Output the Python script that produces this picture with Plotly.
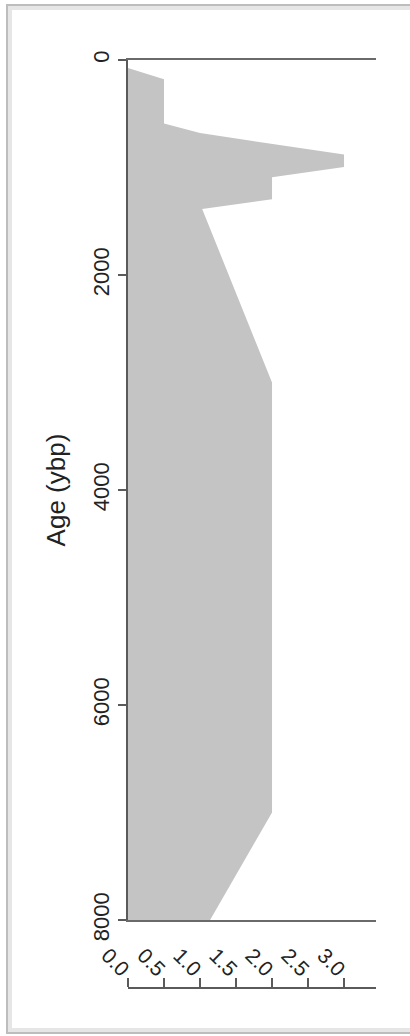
import plotly.graph_objects as go

# Data
ages = [75, 180, 590, 680, 880, 995, 1090, 1295, 1386, 3000, 7000, 8000]
values = [0.0, 0.5, 0.5, 1.0, 3.0, 3.0, 2.0, 2.0, 1.03, 2.0, 2.0, 1.14]
y_ticks = [0, 2000, 4000, 6000, 8000]
x_ticks = [0.0, 0.5, 1.0, 1.5, 2.0, 2.5, 3.0]
x_tick_labels = ["0.0", "0.5", "1.0", "1.5", "2.0", "2.5", "3.0"]

W, H = 410, 1036
px_l, px_r = 128, 376
py_top, py_bot = 60, 920
py_axis = 988
py_labels = 985
x_max = 3.444

fig = go.Figure()
fig.add_trace(go.Scatter(
    x=values, y=ages, mode="lines", fill="tozerox",
    fillcolor="#c4c4c4", line=dict(width=0, color="#c4c4c4"),
    hoverinfo="skip", showlegend=False, xaxis="x", yaxis="y",
))
# invisible traces so the lower free x axes are drawn
for ax in ("x2", "x3"):
    fig.add_trace(go.Scatter(
        x=values, y=ages, mode="lines", line=dict(width=0),
        opacity=0, hoverinfo="skip", showlegend=False, xaxis=ax, yaxis="y",
    ))

font_family = "Liberation Sans, Arial, sans-serif"
axis_col = "#5a5a5a"

common_x = dict(domain=[px_l / W, px_r / W], range=[0, x_max],
                showgrid=False, zeroline=False, automargin=False)

fig.update_layout(
    width=W, height=H,
    margin=dict(l=0, r=0, t=0, b=0, autoexpand=False),
    paper_bgcolor="white", plot_bgcolor="white",
    font=dict(family=font_family, color="#222"),
    xaxis=dict(
        **common_x, showticklabels=False, ticks="",
        showline=True, mirror=True, linecolor="#6a6a6a", linewidth=1.5,
        anchor="y",
    ),
    # lower axis: line and upward ticks
    xaxis2=dict(
        **common_x,
        overlaying="x", anchor="free", position=1 - py_axis / H, side="top",
        tickmode="array", tickvals=x_ticks, showticklabels=False,
        ticks="outside", ticklen=9, tickwidth=1.5, tickcolor=axis_col,
        showline=True, linecolor=axis_col, linewidth=1.5,
    ),
    # lower axis: rotated labels above the line
    xaxis3=dict(
        **common_x,
        overlaying="x", anchor="free", position=1 - py_labels / H, side="top",
        tickmode="array", tickvals=x_ticks, ticktext=x_tick_labels,
        ticks="", tickangle=45, showline=False,
        tickfont=dict(size=21, color="#222"),
    ),
    yaxis=dict(
        domain=[1 - py_bot / H, 1 - py_top / H], range=[8000, 0],
        showgrid=False, zeroline=False,
        tickmode="array", tickvals=y_ticks,
        ticks="outside", ticklen=8, tickwidth=1.5, tickcolor=axis_col,
        tickangle=-90, tickfont=dict(size=22, color="#222"),
        showline=True, linecolor=axis_col, linewidth=2,
        title=dict(text="Age (ybp)", font=dict(size=26, color="#222"), standoff=16),
        anchor="x", automargin=False,
    ),
    shapes=[
        dict(type="rect", xref="paper", yref="paper",
             x0=10 / W, x1=1.05, y0=1 - 1030 / H, y1=1 - 8 / H,
             line=dict(color="#e6e6e6", width=4), layer="below"),
        dict(type="rect", xref="paper", yref="paper",
             x0=7 / W, x1=1.05, y0=1 - 1033 / H, y1=1 - 5 / H,
             line=dict(color="#bdbdbd", width=2), layer="below"),
    ],
)

fig.write_html(
    "out.html",
    config={"displayModeBar": False},
    post_script="document.body.style.margin='0';document.body.style.overflow='hidden';",
)
